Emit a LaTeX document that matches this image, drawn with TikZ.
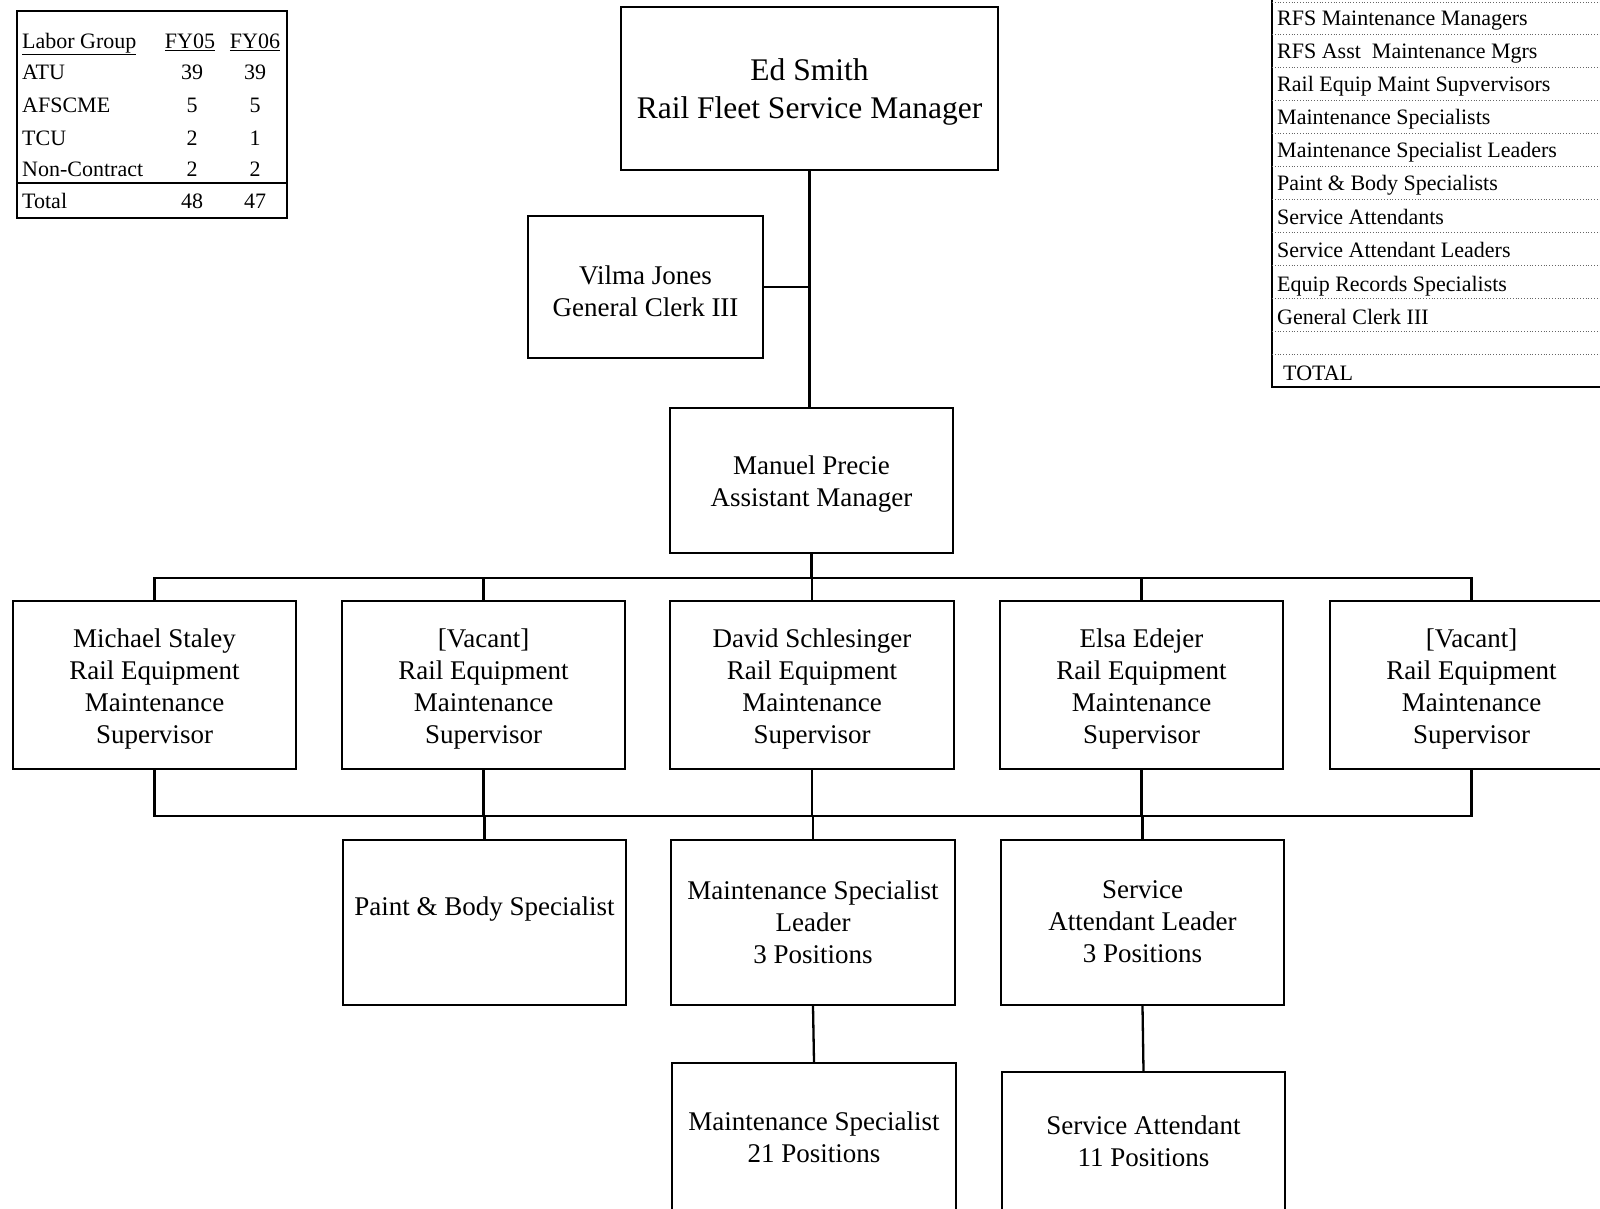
\documentclass[tikz,border=0pt]{standalone}
\usepackage{fontspec}
\setmainfont{Liberation Serif}
\begin{document}
\begin{tikzpicture}[x=1pt,y=-1pt,
  box/.style={draw, line width=2.3pt, inner sep=0pt},
  conn/.style={line width=2.3pt},
  bigtxt/.style={font=\fontsize{31.5}{38}\selectfont, align=center},
  boxtxt/.style={font=\fontsize{27}{32}\selectfont, align=center},
  tabtxt/.style={font=\fontsize{22}{26}\selectfont, inner sep=0pt},
  sep/.style={line width=0.8pt, dotted, black!60}]
\path[use as bounding box] (0,0) rectangle (1600,1209);
\clip (0,0) rectangle (1600,1209);

% ---- main boxes
\node[box, minimum width=377pt, minimum height=163pt] (ed) at (809.5,88.5) {};
\node[bigtxt] (edt) at (809.5,92) {Ed Smith\\Rail Fleet Service Manager};
\node[box, minimum width=235pt, minimum height=142pt] (vj) at (645.5,287) {};
\node[boxtxt] (vjt) at (645.5,291) {Vilma Jones\\General Clerk III};
\node[box, minimum width=283pt, minimum height=145pt] (mp) at (811.5,480.5) {};
\node[boxtxt] (mpt) at (811.5,484.5) {Manuel Precie\\Assistant Manager};

\foreach \n/\x/\w/\t in {s1/154.5/283/Michael Staley, s2/483.5/283/{[Vacant]}, s3/812/284/David Schlesinger, s4/1141.5/283/Elsa Edejer, s5/1471.5/283/{[Vacant]}}{
  \node[box, minimum width=\w pt, minimum height=168pt] (\n) at (\x,685) {};
  \node[boxtxt] (\n t) at (\x,689) {\t\\Rail Equipment\\Maintenance\\Supervisor};
}

\node[box, minimum width=283pt, minimum height=165pt] (pb) at (484.5,922.5) {};
\node[boxtxt] (pbt) at (484.5,909) {Paint \& Body Specialist};
\node[box, minimum width=284pt, minimum height=165pt] (msl) at (813,922.5) {};
\node[boxtxt] (mslt) at (813,922) {Maintenance Specialist\\Leader\\3 Positions};
\node[box, minimum width=283pt, minimum height=165pt] (sal) at (1142.5,922.5) {};
\node[boxtxt] (salt) at (1142.5,922) {Service\\Attendant Leader\\3 Positions};

\node[box, minimum width=284pt, minimum height=187pt] (ms) at (814,1156.5) {};
\node[boxtxt] (mst) at (814,1137) {Maintenance Specialist\\21 Positions};
\node[box, minimum width=283pt, minimum height=178pt] (sa) at (1143.5,1161) {};
\node[boxtxt] (sat) at (1143.5,1141) {Service Attendant\\11 Positions};

% ---- connectors
\coordinate (bus1) at (811.5,578);
\coordinate (bus2) at (811.5,816);
\draw[conn] (ed.south) -- (ed.south |- mp.north);
\draw[conn] (vj.east) -- (vj.east -| ed.south);
\draw[conn] (mp.south) -- (bus1);
\draw[conn] (s1.north) -- (s1.north |- bus1) -- (s5.north |- bus1) -- (s5.north);
\foreach \s in {s2,s3,s4} \draw[conn] (\s.north) -- (\s.north |- bus1);
\draw[conn] (s1.south) -- (s1.south |- bus2) -- (s5.south |- bus2) -- (s5.south);
\foreach \s in {s2,s3,s4} \draw[conn] (\s.south) -- (\s.south |- bus2);
\draw[conn] (pb.north) -- (pb.north |- bus2);
\draw[conn] (msl.north) -- (msl.north |- bus2);
\draw[conn] (sal.north) -- (sal.north |- bus2);
\draw[conn] (msl.south) -- (ms.north);
\draw[conn] (sal.south) -- (sa.north);

% ---- labor group table
\draw[line width=2.6pt] (17,11) rectangle (287,218);
\draw[line width=2pt] (17,183) -- (287,183);
\node[tabtxt, anchor=mid west] (lgh) at (22,46) {\underline{Labor Group}};
\node[tabtxt, anchor=mid] (f5h) at (190,46) {\underline{FY05}};
\node[tabtxt, anchor=mid] (f6h) at (255,46) {\underline{FY06}};
\foreach \n/\a/\b/\y in {ATU/39/39/77, AFSCME/5/5/110, TCU/2/1/143, Non-Contract/2/2/174, Total/48/47/206}{
  \node[tabtxt, anchor=mid west] at (22,\y) {\n};
  \node[tabtxt, anchor=mid] at (192,\y) {\a};
  \node[tabtxt, anchor=mid] at (255,\y) {\b};
}

% ---- position table (right)
\draw[line width=2.4pt] (1272,0) -- (1272,387) -- (1600,387);
\foreach \y in {2,34,67,100,133,166,199,232,265,298,331,354} \draw[sep] (1272,\y) -- (1600,\y);
\foreach \t/\y in {RFS Maintenance Managers/23, RFS Asst\ \ Maintenance Mgrs/56, Rail Equip Maint Supvervisors/89, Maintenance Specialists/122, Maintenance Specialist Leaders/155, Paint \& Body Specialists/188, Service Attendants/222, Service Attendant Leaders/255, Equip Records Specialists/289, General Clerk III/322}
  \node[tabtxt, anchor=mid west] at (1277,\y) {\t};
\node[tabtxt, anchor=mid west] (tot) at (1283,378) {TOTAL};
\end{tikzpicture}
\end{document}
